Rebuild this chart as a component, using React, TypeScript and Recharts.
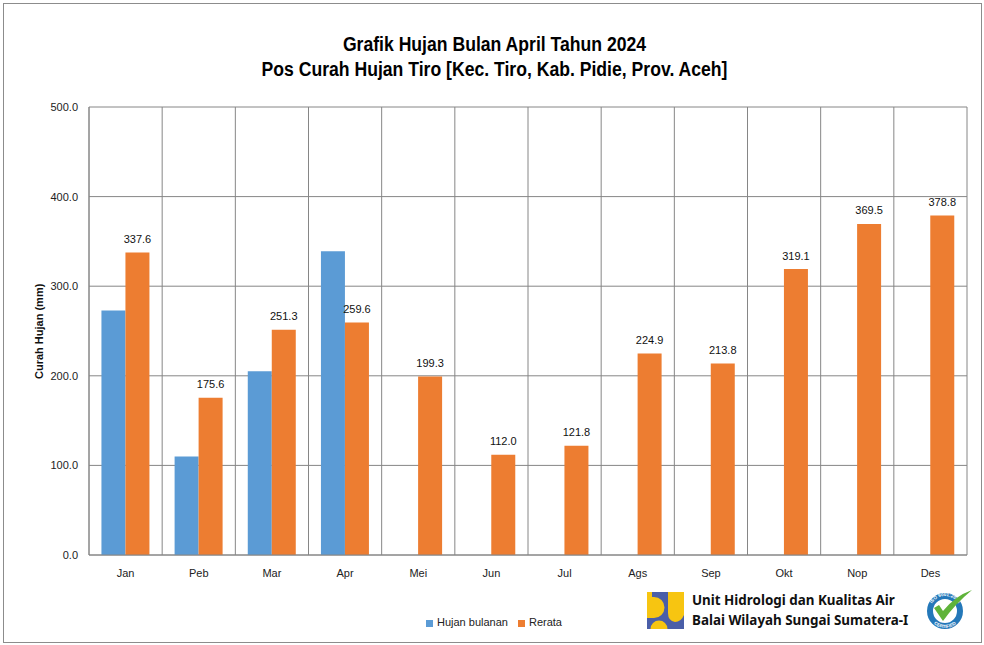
import React from "react";
import { BarChart, Bar, XAxis, YAxis, CartesianGrid, LabelList, Legend } from "recharts";

const categories = ["Jan", "Peb", "Mar", "Apr", "Mei", "Jun", "Jul", "Ags", "Sep", "Okt", "Nop", "Des"];
const hujanBulanan: (number | null)[] = [273, 110, 205, 339, null, null, null, null, null, null, null, null];
const rerata = [337.6, 175.6, 251.3, 259.6, 199.3, 112.0, 121.8, 224.9, 213.8, 319.1, 369.5, 378.8];
const yTicks = [0, 100, 200, 300, 400, 500];
const titleLines = ["Grafik Hujan Bulan April Tahun 2024", "Pos Curah Hujan Tiro [Kec. Tiro, Kab. Pidie, Prov. Aceh]"];
const footerLines = ["Unit Hidrologi dan Kualitas Air", "Balai Wilayah Sungai Sumatera-I"];

const data = categories.map((name, i) => ({ name, hujan: hujanBulanan[i], rerata: rerata[i] }));

const GRID = "#868686";
const FONT = "'Liberation Sans', Arial, sans-serif";

const Logo = () => (
  <svg width={984} height={645} style={{ position: "absolute", left: 0, top: 0, pointerEvents: "none" }}>
    <rect x={647} y={592} width={37} height={37} fill="#4a5ea8" />
    <path d="M647 592 H652 V597 H654 A10.5 10.5 0 0 1 654 618 H647 Z" fill="#f7c511" />
    <path d="M668 592 H684 V615 Q681 622 675 622 Q668 621 668 613 Z" fill="#f7c511" />
    <path d="M650.5 629 A8.5 8.5 0 0 1 667.5 629 Z" fill="#f7c511" />
    <text x={692} y={605} fontFamily="'Noto Sans', sans-serif" fontWeight={700} fontSize={13.4} fill="#111">{footerLines[0]}</text>
    <text x={692} y={625} fontFamily="'Noto Sans', sans-serif" fontWeight={700} fontSize={13.4} fill="#111">{footerLines[1]}</text>
    <defs>
      <path id="isoTop" d="M930 611 A15 15 0 0 1 960 611" />
      <path id="isoBottom" d="M928 611 A17 17 0 0 0 962 611" />
    </defs>
    <circle cx={945} cy={611} r={15} fill="none" stroke="#2478b9" strokeWidth={6} />
    <text fontSize={4.6} fontWeight={700} fill="#fff" fontFamily={FONT} textAnchor="middle">
      <textPath href="#isoTop" startOffset="50%">ISO 9001:2008</textPath>
    </text>
    <text fontSize={4.6} fontWeight={700} fill="#fff" fontFamily={FONT} textAnchor="middle">
      <textPath href="#isoBottom" startOffset="50%">CERTIFIED</textPath>
    </text>
    <path d="M934 608 L939 605 L943 611 Q955 596 972 590 Q955 604 943 621 Z" fill="#5fb33a" />
  </svg>
);

export default function App() {
  return (
    <div style={{ position: "absolute", left: 0, top: 0, width: 984, height: 645, background: "#fff", fontFamily: FONT }}>
      <div style={{ position: "absolute", left: 3, top: 3, width: 977, height: 638, border: "1px solid #8c8c8c" }} />
      <div style={{ position: "absolute", left: 0, top: 32, width: 989, textAlign: "center", fontWeight: 700, fontSize: 20, lineHeight: "24.5px", color: "#000", transform: "scaleX(0.88)", transformOrigin: "494.5px 0" }}>
        <div>{titleLines[0]}</div>
        <div>{titleLines[1]}</div>
      </div>
      <div style={{ position: "absolute", left: 0, top: 0 }}>
        <BarChart
          width={984}
          height={645}
          data={data}
          margin={{ top: 107, right: 17, bottom: 42, left: 29 }}
          barCategoryGap="17%"
          barGap={0}
        >
          <CartesianGrid
            stroke={GRID}
            strokeWidth={1}
            verticalCoordinatesGenerator={({ offset }: any) =>
              categories.map((_, i) => offset.left + (offset.width * i) / categories.length).concat(offset.left + offset.width)
            }
          />
          <XAxis
            dataKey="name"
            height={30}
            interval={0}
            tickLine={false}
            axisLine={{ stroke: GRID }}
            tickMargin={8}
            tick={{ fontSize: 11, fill: "#222", fontFamily: FONT }}
          />
          <YAxis
            width={60}
            domain={[0, 500]}
            ticks={yTicks}
            tickFormatter={(v: number) => v.toFixed(1)}
            tickLine={false}
            axisLine={{ stroke: GRID }}
            tickMargin={5}
            tick={{ fontSize: 11, fill: "#222", fontFamily: FONT }}
            label={{ value: "Curah Hujan (mm)", angle: -90, position: "insideLeft", offset: 10, dy: 48, style: { fontSize: 11, fontWeight: 700, fill: "#111", fontFamily: FONT } }}
          />
          <Legend
            layout="horizontal"
            iconType="square"
            iconSize={7}
            wrapperStyle={{ position: "absolute", left: 424, top: 616, width: 150, height: 18, fontSize: 11, fontFamily: FONT }}
            formatter={(value: string) => <span style={{ color: "#222" }}>{value}</span>}
          />
          <Bar dataKey="hujan" name="Hujan bulanan" fill="#5b9bd5" isAnimationActive={false} />
          <Bar dataKey="rerata" name="Rerata" fill="#ed7d31" isAnimationActive={false}>
            <LabelList
              dataKey="rerata"
              position="top"
              offset={9.5}
              formatter={(v: number) => v.toFixed(1)}
              style={{ fontSize: 11, fill: "#111", fontFamily: FONT }}
            />
          </Bar>
        </BarChart>
      </div>
      <Logo />
    </div>
  );
}
